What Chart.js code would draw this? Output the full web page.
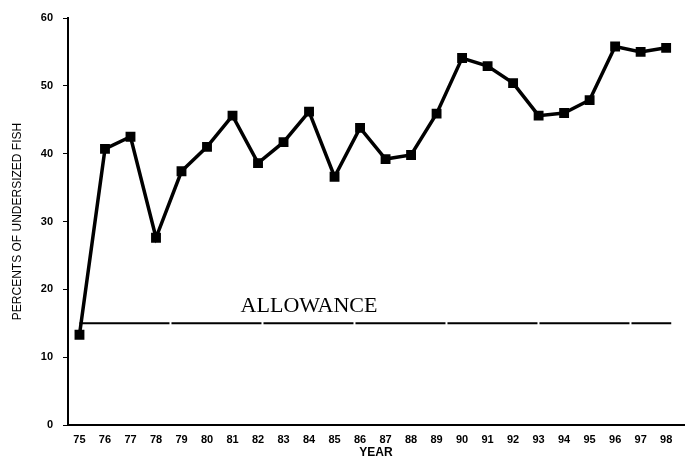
<!DOCTYPE html>
<html>
<head>
<meta charset="utf-8">
<script src="https://cdn.jsdelivr.net/npm/chart.js@4"></script>
<style>
    body { margin: 0; background: #fff; }
    canvas { display: block; }
</style>
</head>
<body>
<canvas id="fishChart" width="692" height="464"></canvas>
<script>
// years (two digit) and percents of undersized fish
const years = [75, 76, 77, 78, 79, 80, 81, 82, 83, 84, 85, 86, 87, 88, 89, 90, 91, 92, 93, 94, 95, 96, 97, 98];
const undersized = [13.3, 40.7, 42.5, 27.6, 37.4, 41.0, 45.6, 38.6, 41.7, 46.2, 36.6, 43.8, 39.2, 39.8, 45.9, 54.1, 52.9, 50.4, 45.6, 46.0, 47.9, 55.8, 55.0, 55.6];
const allowanceYears = [75, 98.2];
const allowanceValues = [15, 15];
const yTicks = [0, 10, 20, 30, 40, 50, 60];

const ctx = document.getElementById("fishChart").getContext("2d");

// text label sitting over the allowance line
const allowanceLabel = {
    id: "allowanceLabel",
    afterDatasetsDraw(chart) {
        const c = chart.ctx;
        const x = chart.scales.x.getPixelForValue(84.0);
        const y = chart.scales.y.getPixelForValue(17.5);
        c.save();
        c.font = "22px 'Liberation Serif'";
        c.fillStyle = "#000";
        c.textAlign = "center";
        c.textBaseline = "middle";
        c.fillText("ALLOWANCE", x, y);
        c.restore();
    }
};

new Chart(ctx, {
    type: "line",
    data: {
        datasets: [
            {
                label: "Undersized",
                data: years.map((yr, i) => ({ x: yr, y: undersized[i] })),
                borderColor: "#000",
                backgroundColor: "#000",
                borderWidth: 3.5,
                pointStyle: "rect",
                pointRadius: 4.5,
                pointBackgroundColor: "#000",
                pointBorderColor: "#000",
                tension: 0,
                fill: false
            },
            {
                label: "Allowance",
                data: allowanceYears.map((yr, i) => ({ x: yr, y: allowanceValues[i] })),
                borderColor: "#000",
                borderWidth: 2,
                borderDash: [90, 2],
                pointRadius: 0,
                fill: false
            }
        ]
    },
    options: {
        responsive: false,
        animation: false,
        layout: { padding: { top: 18, right: 2, left: 0, bottom: 0 } },
        plugins: {
            legend: { display: false },
            tooltip: { enabled: false }
        },
        scales: {
            x: {
                type: "linear",
                min: 74.55,
                max: 98.7,
                afterBuildTicks: (scale) => {
                    scale.ticks = years.map(v => ({ value: v }));
                },
                afterFit: (scale) => { scale.height = 39; },
                grid: { display: false },
                border: { display: true, color: "#000", width: 2 },
                ticks: {
                    color: "#000",
                    padding: 0,
                    maxRotation: 0,
                    autoSkip: false,
                    font: { family: "'Liberation Sans'", size: 11, weight: "bold" },
                    callback: (v) => String(v)
                },
                title: {
                    display: true,
                    text: "YEAR",
                    color: "#000",
                    padding: { top: 0, bottom: 4 },
                    font: { family: "'Liberation Sans'", size: 12, weight: "bold" }
                }
            },
            y: {
                min: 0,
                max: 60,
                afterBuildTicks: (scale) => {
                    scale.ticks = yTicks.map(v => ({ value: v }));
                },
                afterFit: (scale) => { scale.width = 68; },
                grid: {
                    drawOnChartArea: false,
                    drawTicks: true,
                    tickLength: 5,
                    color: "#000",
                    lineWidth: 1
                },
                border: { display: true, color: "#000", width: 2 },
                ticks: {
                    color: "#000",
                    padding: 10,
                    font: { family: "'Liberation Sans'", size: 11, weight: "bold" }
                },
                title: {
                    display: true,
                    text: "PERCENTS OF UNDERSIZED FISH",
                    color: "#000",
                    padding: { top: 10, bottom: 0 },
                    font: { family: "'Liberation Sans'", size: 12 }
                }
            }
        }
    },
    plugins: [allowanceLabel]
});
</script>
</body>
</html>
